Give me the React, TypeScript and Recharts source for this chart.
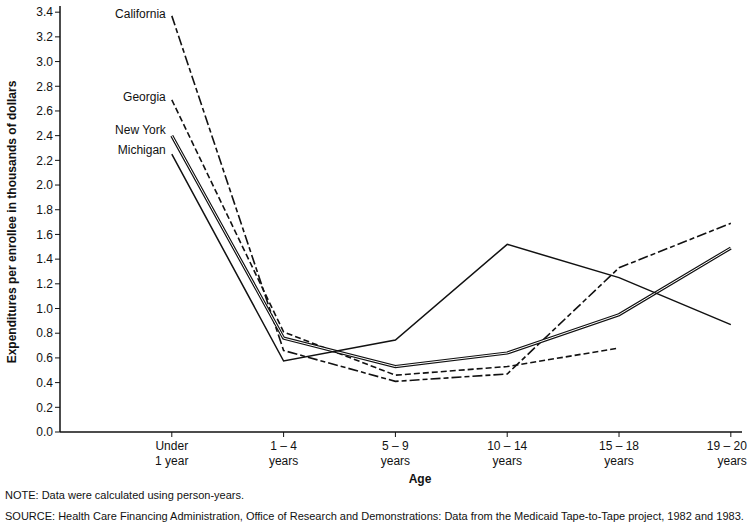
import { LineChart, Line, XAxis, YAxis } from 'recharts'

const ageTop = ['Under', '1 – 4', '5 – 9', '10 – 14', '15 – 18', '19 – 20']
const ageBottom = ['1 year', 'years', 'years', 'years', 'years', 'years']
const agePos = [1, 2, 3, 4, 5, 6]

const california = [3.37, 0.66, 0.41, 0.47, 1.33, 1.69]
const georgia = [2.69, 0.81, 0.46, 0.53, 0.68, null]
const newYork = [2.4, 0.76, 0.53, 0.64, 0.95, 1.49]
const michigan = [2.25, 0.575, 0.745, 1.52, 1.25, 0.87]

const yTicks = [0, 0.2, 0.4, 0.6, 0.8, 1.0, 1.2, 1.4, 1.6, 1.8, 2.0, 2.2, 2.4, 2.6, 2.8, 3.0, 3.2, 3.4]

const data = agePos.map((p, i) => ({
  age: p,
  california: california[i],
  georgia: georgia[i],
  newYork: newYork[i],
  michigan: michigan[i],
}))

const font = '"Liberation Sans", Arial, Helvetica, sans-serif'

function AgeTick(props: any) {
  const { x, y, payload } = props
  const i = payload.value - 1
  // last label sits against the right edge, so right-align it
  const last = i === ageTop.length - 1
  const tx = last ? x + 16 : x
  const anchor = last ? 'end' : 'middle'
  return (
    <g>
      <text x={tx} y={y} dy={11} textAnchor={anchor} fontSize={12} fill="#111" fontFamily={font}>{ageTop[i]}</text>
      <text x={tx} y={y} dy={26} textAnchor={anchor} fontSize={12} fill="#111" fontFamily={font}>{ageBottom[i]}</text>
    </g>
  )
}

// name label drawn left of the first point only
const nameLabel = (name: string, dy: number) => (props: any) => {
  const { x, y, index } = props
  if (index !== 0) return null
  return (
    <text x={x - 6} y={y + dy} textAnchor="end" fontSize={12} fill="#111" fontFamily={font} key={name}>
      {name}
    </text>
  )
}

export default function App() {
  return (
    <div style={{ position: 'absolute', left: 0, top: 0, width: 750, height: 524, background: '#fff', fontFamily: font }}>
      <LineChart width={750} height={524} data={data} margin={{ top: 6, right: 8, left: 8, bottom: 52 }}>
        <XAxis
          dataKey="age"
          type="number"
          domain={[0, 6.1]}
          ticks={agePos}
          tick={<AgeTick />}
          tickSize={5}
          tickLine={{ stroke: '#111' }}
          axisLine={{ stroke: '#111', strokeWidth: 1.5 }}
          height={40}
          interval={0}
        />
        <YAxis
          type="number"
          domain={[0, 3.45]}
          ticks={yTicks}
          tickFormatter={(v: number) => v.toFixed(1)}
          tick={{ fontSize: 12, fill: '#111', fontFamily: font }}
          tickSize={5}
          tickLine={{ stroke: '#111' }}
          axisLine={{ stroke: '#111', strokeWidth: 1.5 }}
          width={52}
          interval={0}
        />
        <Line
          dataKey="california"
          stroke="#111"
          strokeWidth={1.6}
          strokeDasharray="10 3 5 3"
          dot={false}
          isAnimationActive={false}
          label={nameLabel('California', 2)}
        />
        <Line
          dataKey="georgia"
          stroke="#111"
          strokeWidth={1.6}
          strokeDasharray="6 3"
          dot={false}
          isAnimationActive={false}
          label={nameLabel('Georgia', 1)}
        />
        <Line
          dataKey="newYork"
          stroke="#111"
          strokeWidth={3.2}
          dot={false}
          isAnimationActive={false}
          label={nameLabel('New York', -2)}
        />
        <Line
          dataKey="newYork"
          stroke="#fff"
          strokeWidth={1}
          dot={false}
          isAnimationActive={false}
        />
        <Line
          dataKey="michigan"
          stroke="#111"
          strokeWidth={1.5}
          dot={false}
          isAnimationActive={false}
          label={nameLabel('Michigan', 0)}
        />
      </LineChart>
      <div style={{ position: 'absolute', left: 4, top: 80, width: 16, height: 284, display: 'flex', alignItems: 'center', justifyContent: 'center' }}>
        <div style={{ transform: 'rotate(-90deg)', whiteSpace: 'nowrap', fontSize: 12, fontWeight: 'bold', color: '#111' }}>
          Expenditures per enrollee in thousands of dollars
        </div>
      </div>
      <div style={{ position: 'absolute', left: 400, top: 472, width: 40, textAlign: 'center', fontSize: 12, fontWeight: 'bold', color: '#111' }}>Age</div>
      <div style={{ position: 'absolute', left: 5, top: 489, fontSize: 11, color: '#111' }}>
        NOTE: Data were calculated using person-years.
      </div>
      <div style={{ position: 'absolute', left: 5, top: 510, fontSize: 11, color: '#111', whiteSpace: 'nowrap' }}>
        SOURCE: Health Care Financing Administration, Office of Research and Demonstrations: Data from the Medicaid Tape-to-Tape project, 1982 and 1983.
      </div>
    </div>
  )
}
